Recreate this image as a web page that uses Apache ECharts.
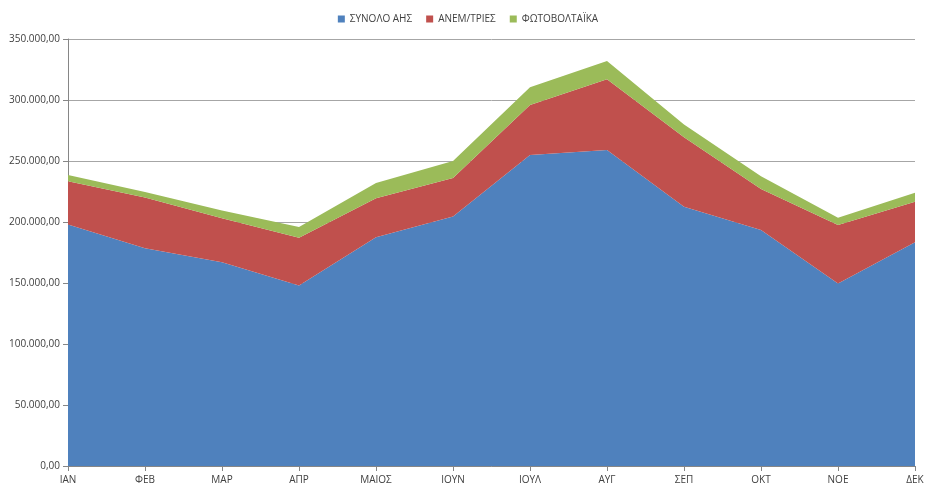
<!DOCTYPE html>
<html>
<head>
<meta charset="utf-8">
<script src="https://cdn.jsdelivr.net/npm/echarts@6/dist/echarts.min.js"></script>
<style>
html,body{margin:0;padding:0;background:#fff;}
#chart{width:936px;height:495px;}
</style>
</head>
<body>
<div id="chart"></div>
<script>
var categories = ['ΙΑΝ','ΦΕΒ','ΜΑΡ','ΑΠΡ','ΜΑΙΟΣ','ΙΟΥΝ','ΙΟΥΛ','ΑΥΓ','ΣΕΠ','ΟΚΤ','ΝΟΕ','ΔΕΚ'];
var seriesNames = ['ΣΥΝΟΛΟ ΑΗΣ','ΑΝΕΜ/ΤΡΙΕΣ','ΦΩΤΟΒΟΛΤΑΪΚΑ'];
var ahs = [198000,178500,167000,148000,187500,204500,255000,259000,212500,193500,149500,183500];
var wind = [35500,41500,36000,39000,32000,31500,41000,58000,57000,33500,48000,33000];
var pv = [5000,4500,6500,9000,12500,14000,14500,15000,10500,10500,6000,7500];
var yTicks = {min:0, max:350000, interval:50000};

function fmt(v){
  var s = String(Math.round(v));
  s = s.replace(/\B(?=(\d{3})+(?!\d))/g, '.');
  return s + ',00';
}

var colors = ['#4F81BD','#C0504D','#9BBB59'];
var dataSets = [ahs, wind, pv];
var chart = echarts.init(document.getElementById('chart'), null, {renderer:'canvas'});
var series = dataSets.map(function(d, i){
  return {
    name: seriesNames[i],
    type: 'line',
    stack: 'total',
    data: d,
    symbol: 'none',
    lineStyle: {width: 0},
    areaStyle: {color: colors[i], opacity: 1},
    itemStyle: {color: colors[i]}
  };
});
chart.setOption({
  animation: false,
  textStyle: {fontFamily: 'Open Sans, Liberation Sans, sans-serif'},
  legend: {
    top: 9,
    left: 'center',
    itemWidth: 7,
    itemHeight: 7,
    itemGap: 14,
    icon: 'rect',
    textStyle: {fontSize: 10, color: '#404040', fontFamily: 'Open Sans, sans-serif'},
    data: seriesNames
  },
  grid: {left: 68, right: 21, top: 39, bottom: 29, containLabel: false},
  xAxis: {
    type: 'category',
    data: categories,
    boundaryGap: false,
    axisLine: {lineStyle: {color: '#868686'}},
    axisTick: {show: true, alignWithLabel: true, length: 5, lineStyle: {color: '#868686'}},
    axisLabel: {color: '#404040', fontSize: 10, margin: 9, interval: 0},
    splitLine: {show: false}
  },
  yAxis: {
    type: 'value',
    min: yTicks.min,
    max: yTicks.max,
    interval: yTicks.interval,
    axisLine: {show: true, lineStyle: {color: '#868686'}},
    axisTick: {show: true, length: 5, lineStyle: {color: '#868686'}},
    axisLabel: {color: '#404040', fontSize: 10, margin: 8, formatter: fmt},
    splitLine: {show: true, lineStyle: {color: '#A6A6A6', width: 1}}
  },
  series: series
});
</script>
</body>
</html>
